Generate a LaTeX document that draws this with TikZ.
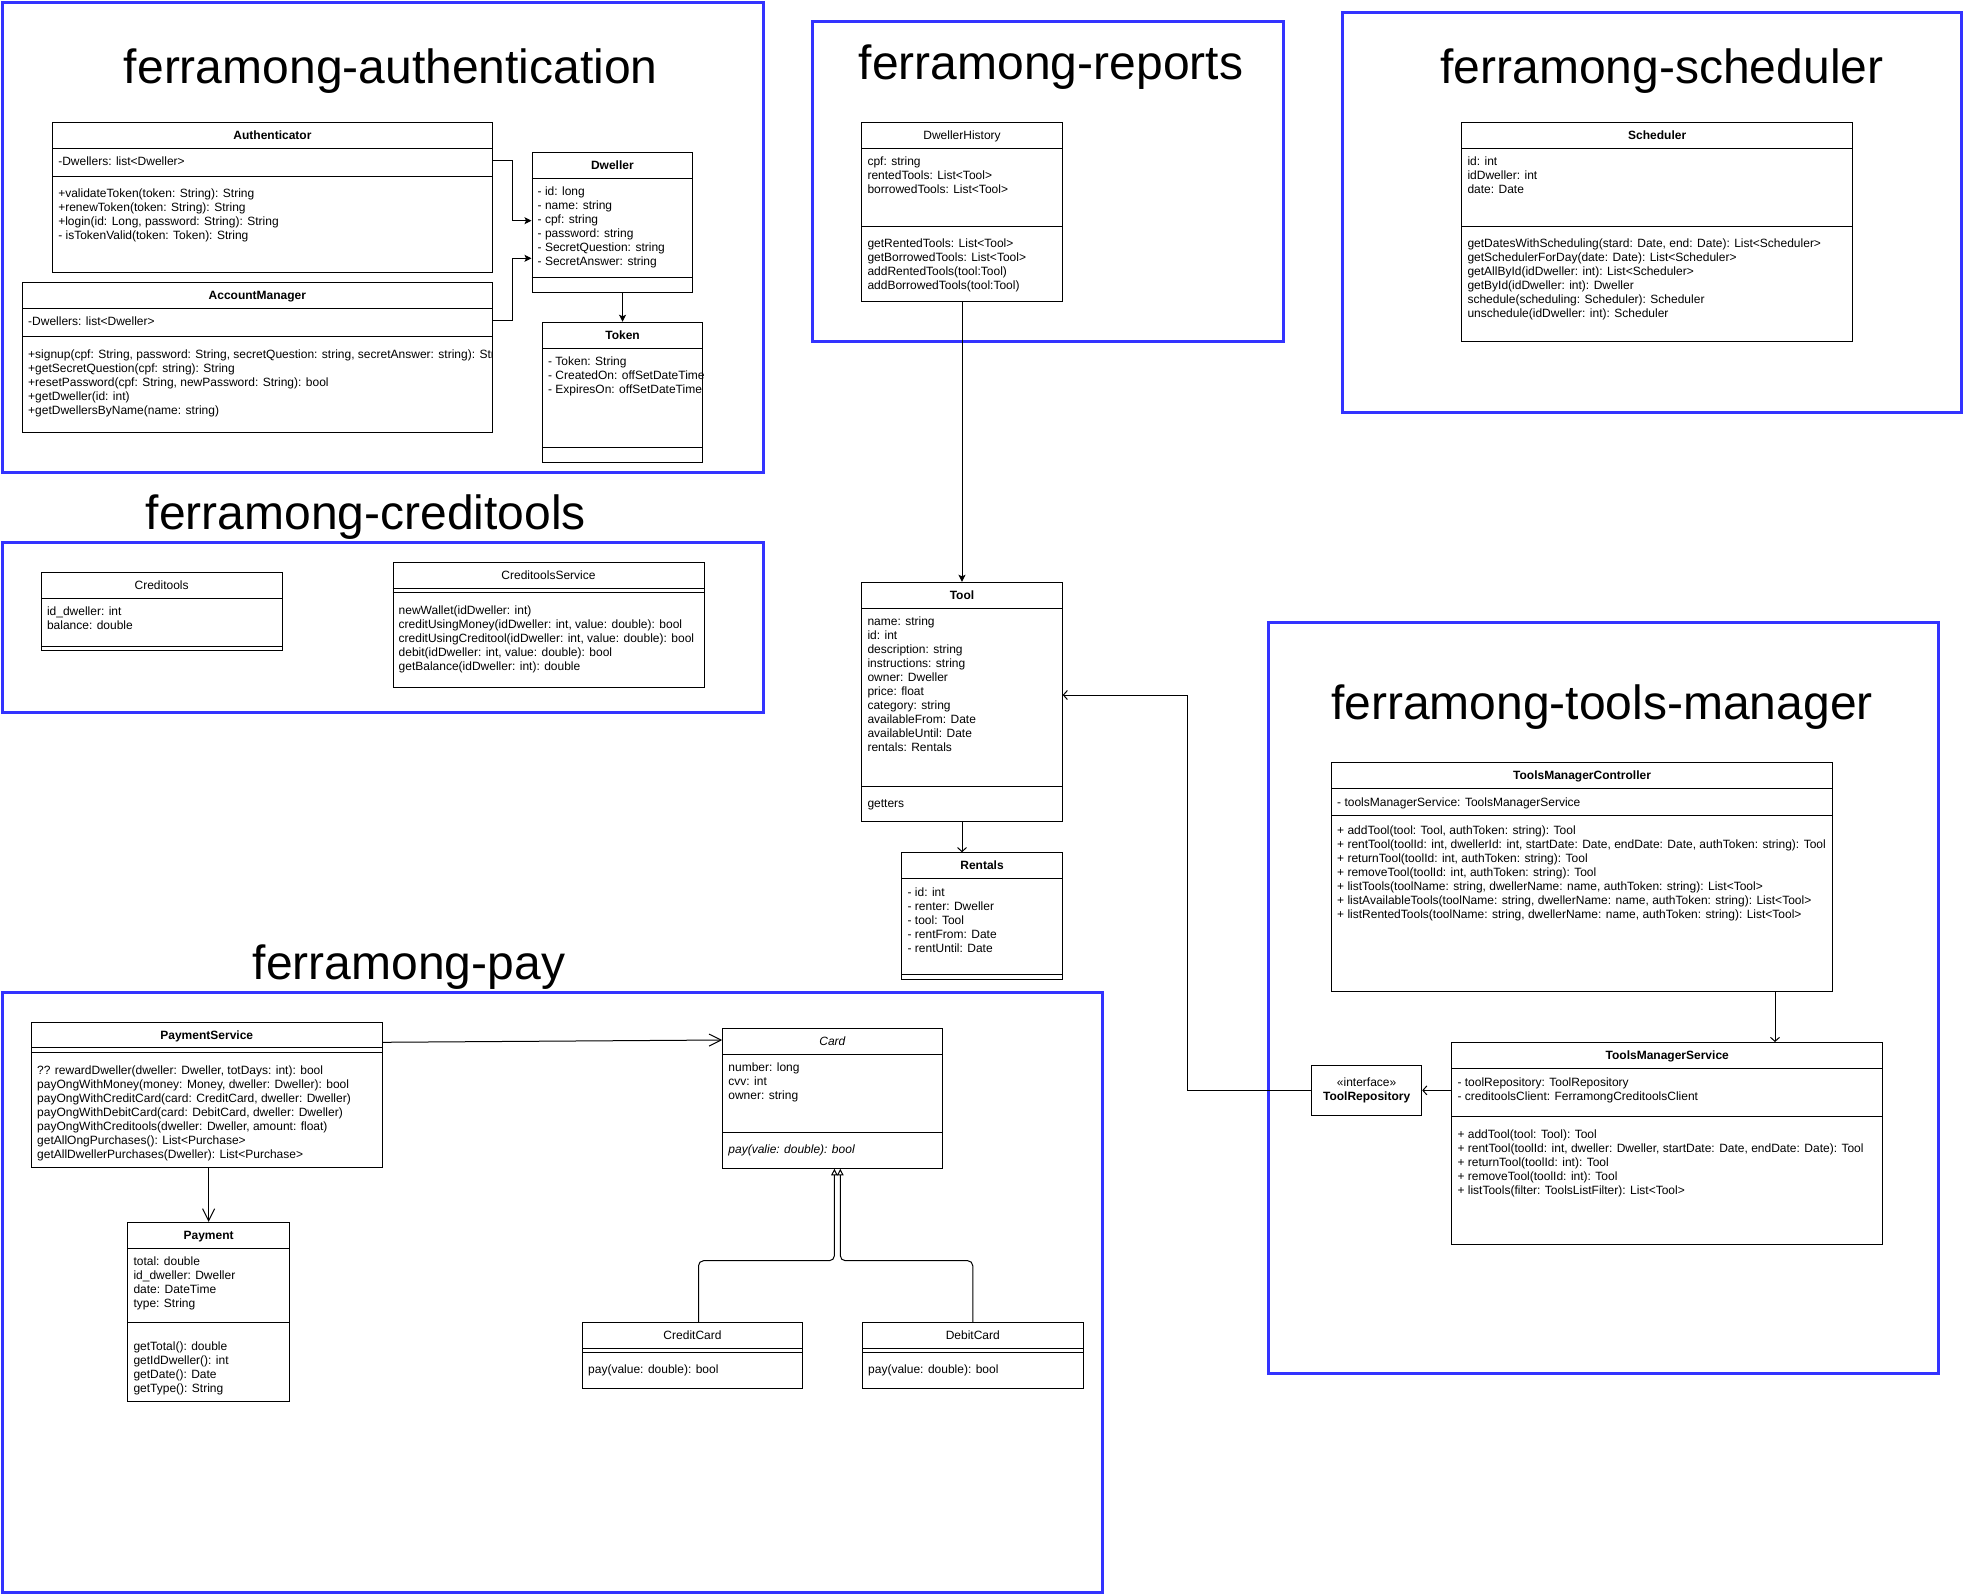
\documentclass[tikz,border=0pt]{standalone}
\usepackage{fontspec}
\setmainfont{Liberation Sans}
\usetikzlibrary{arrows.meta,fit}
\definecolor{frameblue}{RGB}{51,51,255}
\newcommand\fs{\fontsize{12}{14}\selectfont}
\newcommand\lns[1]{\begin{tabular}[t]{@{}l@{}}#1\end{tabular}}
\newcommand\ubox[5]{\coordinate (#1-a) at (#2,#3); \coordinate (#1-b) at (#4,#5); \node[box, fit=(#1-a)(#1-b)] (#1) {};}
\newcommand\hsep[2]{\draw[sepl] (#1.west |- 0,#2) -- (#1.east |- 0,#2);}
\begin{document}
\begin{tikzpicture}[x=1pt,y=-1pt,
  frame/.style={draw=frameblue, line width=3pt},
  ttl/.style={anchor=base, inner sep=0pt, font=\fontsize{48}{56}\selectfont},
  box/.style={draw, line width=1pt, inner sep=0pt},
  sepl/.style={line width=1pt},
  hdr/.style={inner sep=0pt, font=\fs\bfseries, text height=8.6pt, text depth=0pt, anchor=center},
  hdrn/.style={hdr, font=\fs},
  hdri/.style={hdr, font=\fs\itshape},
  txt/.style={anchor=base west, inner sep=0pt, font=\fs},
  conn/.style={line width=1pt},
  fillarr/.style={conn, -{Stealth[length=7pt,width=7pt,inset=1.5pt]}},
  opensm/.style={conn, -{Straight Barb[length=4pt,width=9pt]}},
  openlg/.style={conn, -{Straight Barb[length=12pt,width=12pt]}},
  tri/.style={conn, rounded corners=5pt, -{Triangle[open,length=6.5pt,width=6.5pt]}}
]
\useasboundingbox (0,0) rectangle (1964,1594);

% ---------------- frames ----------------
\draw[frame] (2.5,2.5) rectangle (763,472);
\draw[frame] (812,21.3) rectangle (1283,342);
\draw[frame] (1342,12.5) rectangle (1961.5,412);
\draw[frame] (2.5,542.4) rectangle (763,712.7);
\draw[frame] (1268,622.5) rectangle (1938,1373);
\draw[frame] (2.5,992.5) rectangle (1102.3,1592);

% ---------------- titles ----------------
\node[ttl] (t-auth) at (390.8,83.4) {ferramong-authentication};
\node[ttl] (t-rep) at (1051,79.6) {ferramong-reports};
\node[ttl] (t-sch) at (1662,83.4) {ferramong-scheduler};
\node[ttl] (t-cred) at (365.8,529.3) {ferramong-creditools};
\node[ttl] (t-tm) at (1602,719.7) {ferramong-tools-manager};
\node[ttl] (t-pay) at (409,979) {ferramong-pay};

% ---------------- authentication ----------------
\ubox{auth}{52.6}{122.7}{492.3}{272.3}
\hsep{auth}{148.3}\hsep{auth}{176.3}
\node[hdr] (auth-h) at (auth.north |- 0,135.5) {Authenticator};
\node[txt] (auth-at) at (58.1,165.9) {\lns{-Dwellers: list<Dweller>}};
\node[txt] (auth-m) at (58.1,197.5) {\lns{+validateToken(token: String): String\\+renewToken(token: String): String\\+login(id: Long, password: String): String\\- isTokenValid(token: Token): String}};

\ubox{acct}{22.5}{282.3}{492.3}{432}
\hsep{acct}{308.3}\hsep{acct}{336.3}
\node[hdr] (acct-h) at (acct.north |- 0,295.3) {AccountManager};
\node[txt] (acct-at) at (28,325.5) {\lns{-Dwellers: list<Dweller>}};
\begin{scope}
\clip (acct.south west) rectangle (acct.north east);
\node[txt] (acct-m) at (28,358.2) {\lns{+signup(cpf: String, password: String, secretQuestion: string, secretAnswer: string): String\\+getSecretQuestion(cpf: string): String\\+resetPassword(cpf: String, newPassword: String): bool\\+getDweller(id: int)\\+getDwellersByName(name: string)}};
\end{scope}

\ubox{dw}{532}{152.3}{692.7}{292.3}
\hsep{dw}{178.3}\hsep{dw}{277.3}
\node[hdr] (dw-h) at (dw.north |- 0,165.3) {Dweller};
\node[txt] (dw-at) at (537.5,195.9) {\lns{- id: long\\- name: string\\- cpf: string\\- password: string\\- SecretQuestion: string\\- SecretAnswer: string}};

\ubox{tok}{542.4}{322.3}{702.7}{462.3}
\hsep{tok}{348.3}\hsep{tok}{447.7}
\node[hdr] (tok-h) at (tok.north |- 0,335.3) {Token};
\begin{scope}
\clip (tok.south west) rectangle (tok.north east);
\node[txt] (tok-at) at (547.9,365.9) {\lns{- Token: String\\- CreatedOn: offSetDateTime\\- ExpiresOn: offSetDateTime}};
\end{scope}

\draw[fillarr] (auth.east |- 0,160.7) -- ++(19.7,0) |- (dw.west |- 0,220.7);
\draw[fillarr] (acct.east |- 0,320.3) -- ++(19.7,0) |- (dw.west |- 0,258.3);
\draw[fillarr] (dw.south -| tok.north) -- (tok.north);

% ---------------- reports ----------------
\ubox{dh}{861.8}{122.5}{1062.2}{301.9}
\hsep{dh}{148.3}\hsep{dh}{226.5}
\node[hdrn] (dh-h) at (dh.north |- 0,135.5) {DwellerHistory};
\node[txt] (dh-at) at (867.3,165.9) {\lns{cpf: string\\rentedTools: List<Tool>\\borrowedTools: List<Tool>}};
\node[txt] (dh-m) at (867.3,247.5) {\lns{getRentedTools: List<Tool>\\getBorrowedTools: List<Tool>\\addRentedTools(tool:Tool)\\addBorrowedTools(tool:Tool)}};

% ---------------- scheduler ----------------
\ubox{sch}{1461.8}{122.5}{1852.6}{342}
\hsep{sch}{148.3}\hsep{sch}{226.5}
\node[hdr] (sch-h) at (sch.north |- 0,135.5) {Scheduler};
\node[txt] (sch-at) at (1467.3,165.9) {\lns{id: int\\idDweller: int\\date: Date}};
\node[txt] (sch-m) at (1467.3,247.5) {\lns{getDatesWithScheduling(stard: Date, end: Date): List<Scheduler>\\getSchedulerForDay(date: Date): List<Scheduler>\\getAllById(idDweller: int): List<Scheduler>\\getById(idDweller: int): Dweller\\schedule(scheduling: Scheduler): Scheduler\\unschedule(idDweller: int): Scheduler}};

% ---------------- tool / rentals ----------------
\ubox{tool}{861.8}{582.3}{1062.2}{821.7}
\hsep{tool}{608.3}\hsep{tool}{786}
\node[hdr] (tool-h) at (tool.north |- 0,595.3) {Tool};
\node[txt] (tool-at) at (867.3,625.9) {\lns{name: string\\id: int\\description: string\\instructions: string\\owner: Dweller\\price: float\\category: string\\availableFrom: Date\\availableUntil: Date\\rentals: Rentals}};
\node[txt] (tool-m) at (867.3,807.5) {\lns{getters}};

\ubox{rent}{901.9}{852.7}{1062.2}{979}
\hsep{rent}{878.3}\hsep{rent}{974.5}
\node[hdr] (rent-h) at (rent.north |- 0,865.5) {Rentals};
\node[txt] (rent-at) at (907.4,896.2) {\lns{- id: int\\- renter: Dweller\\- tool: Tool\\- rentFrom: Date\\- rentUntil: Date}};

\draw[fillarr] (dh.south) -- (tool.north);
\draw[opensm] (tool.south) -- (tool.south |- rent.north);

% ---------------- creditools ----------------
\ubox{ct}{41.3}{572.3}{282}{650}
\hsep{ct}{598.3}\hsep{ct}{646}
\node[hdrn] (ct-h) at (ct.north |- 0,585.3) {Creditools};
\node[txt] (ct-at) at (46.8,615.7) {\lns{id\_dweller: int\\balance: double}};

\ubox{cts}{393}{562.3}{704}{687.7}
\hsep{cts}{588.3}\hsep{cts}{592.3}
\node[hdrn] (cts-h) at (cts.north |- 0,575.3) {CreditoolsService};
\node[txt] (cts-m) at (398.5,614.5) {\lns{newWallet(idDweller: int)\\creditUsingMoney(idDweller: int, value: double): bool\\creditUsingCreditool(idDweller: int, value: double): bool\\debit(idDweller: int, value: double): bool\\getBalance(idDweller: int): double}};

% ---------------- tools manager ----------------
\ubox{tmc}{1331.5}{762.5}{1832.6}{991.7}
\hsep{tmc}{788.3}\hsep{tmc}{815}
\node[hdr] (tmc-h) at (tmc.north |- 0,775.4) {ToolsManagerController};
\node[txt] (tmc-at) at (1337,806.2) {\lns{- toolsManagerService: ToolsManagerService}};
\node[txt] (tmc-m) at (1337,834.9) {\lns{+ addTool(tool: Tool, authToken: string): Tool\\+ rentTool(toolId: int, dwellerId: int, startDate: Date, endDate: Date, authToken: string): Tool\\+ returnTool(toolId: int, authToken: string): Tool\\+ removeTool(toolId: int, authToken: string): Tool\\+ listTools(toolName: string, dwellerName: name, authToken: string): List<Tool>\\+ listAvailableTools(toolName: string, dwellerName: name, authToken: string): List<Tool>\\+ listRentedTools(toolName: string, dwellerName: name, authToken: string): List<Tool>}};

\ubox{tms}{1451.8}{1042.5}{1882.7}{1244}
\hsep{tms}{1068.3}\hsep{tms}{1116.5}
\node[hdr] (tms-h) at (tms.north |- 0,1055.4) {ToolsManagerService};
\node[txt] (tms-at) at (1457.3,1086.5) {\lns{- toolRepository: ToolRepository\\- creditoolsClient: FerramongCreditoolsClient}};
\node[txt] (tms-m) at (1457.3,1138.2) {\lns{+ addTool(tool: Tool): Tool\\+ rentTool(toolId: int, dweller: Dweller, startDate: Date, endDate: Date): Tool\\+ returnTool(toolId: int): Tool\\+ removeTool(toolId: int): Tool\\+ listTools(filter: ToolsListFilter): List<Tool>}};

\ubox{trep}{1311.5}{1065.7}{1421.7}{1115}
\node[inner sep=0pt, font=\fs, align=center] (trep-t) at (trep.center) {«interface»\\\textbf{ToolRepository}};

\draw[opensm] (tmc.south -| 1775,0) -- (tms.north -| 1775,0);
\draw[opensm] (tms.west |- trep.east) -- (trep.east);
\draw[opensm] (trep.west) -- ++(-124,0) |- (tool.east |- 0,695);

% ---------------- pay ----------------
\ubox{ps}{31.5}{1022.3}{382}{1167.7}
\hsep{ps}{1047.7}\hsep{ps}{1052.3}
\node[hdr] (ps-h) at (ps.north |- 0,1035) {PaymentService};
\node[txt] (ps-m) at (37,1074.2) {\lns{?? rewardDweller(dweller: Dweller, totDays: int): bool\\payOngWithMoney(money: Money, dweller: Dweller): bool\\payOngWithCreditCard(card: CreditCard, dweller: Dweller)\\payOngWithDebitCard(card: DebitCard, dweller: Dweller)\\payOngWithCreditools(dweller: Dweller, amount: float)\\getAllOngPurchases(): List<Purchase>\\getAllDwellerPurchases(Dweller): List<Purchase>}};

\ubox{pmt}{127.8}{1222.3}{289.4}{1401.7}
\hsep{pmt}{1248.3}\hsep{pmt}{1322.3}
\node[hdr] (pmt-h) at (pmt.north |- 0,1235.3) {Payment};
\node[txt] (pmt-at) at (133.3,1265.2) {\lns{total: double\\id\_dweller: Dweller\\date: DateTime\\type: String}};
\node[txt] (pmt-m) at (133.3,1350.2) {\lns{getTotal(): double\\getIdDweller(): int\\getDate(): Date\\getType(): String}};

\ubox{card}{722.7}{1028.3}{942}{1168.3}
\hsep{card}{1054.3}\hsep{card}{1132.3}
\node[hdri] (card-h) at (card.north |- 0,1041.3) {Card};
\node[txt] (card-at) at (728.2,1071.9) {\lns{number: long\\cvv: int\\owner: string}};
\node[txt] (card-m) at (728.2,1153.5) {\lns{\itshape pay(valie: double): bool}};

\ubox{cc}{582.5}{1322.3}{802.5}{1388.3}
\hsep{cc}{1348.3}\hsep{cc}{1352.3}
\node[hdrn] (cc-h) at (cc.north |- 0,1335.3) {CreditCard};
\node[txt] (cc-m) at (588,1373.9) {\lns{pay(value: double): bool}};

\ubox{dc}{862.5}{1322.3}{1083}{1388.3}
\hsep{dc}{1348.3}\hsep{dc}{1352.3}
\node[hdrn] (dc-h) at (dc.north |- 0,1335.3) {DebitCard};
\node[txt] (dc-m) at (868,1373.9) {\lns{pay(value: double): bool}};

\draw[openlg] (ps.south -| pmt.north) -- (pmt.north);
\draw[openlg] (ps.east |- 0,1042.3) -- (card.west |- 0,1040);
\draw[tri] (cc.north -| 698.5,0) -- (698.5,1260.7) -- (834.4,1260.7) -- (card.south -| 834.4,0);
\draw[tri] (dc.north) -- (dc.north |- 0,1260.7) -- (840.3,1260.7) -- (card.south -| 840.3,0);
\end{tikzpicture}
\end{document}
